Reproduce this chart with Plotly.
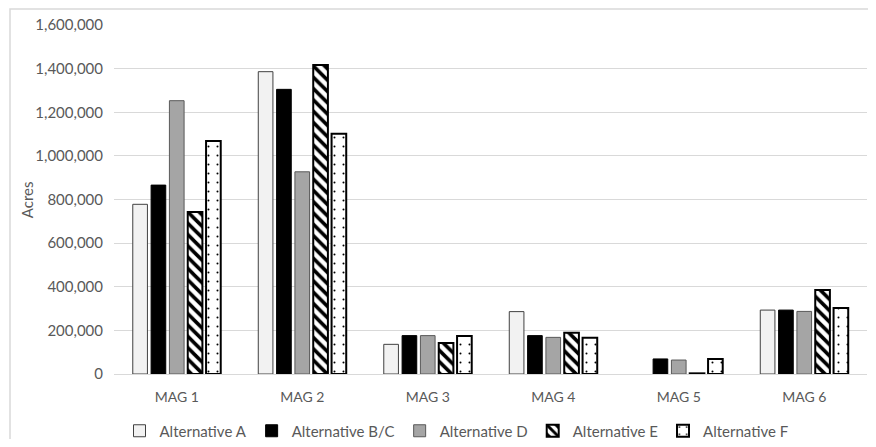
import plotly.graph_objects as go

categories = ["MAG 1", "MAG 2", "MAG 3", "MAG 4", "MAG 5", "MAG 6"]
alt_a = [778000, 1386000, 136000, 286000, None, 293000]
alt_bc = [866000, 1305000, 176000, 176000, 69000, 293000]
alt_d = [1253000, 927000, 176000, 168000, 64000, 287000]
alt_e = [743000, 1417000, 142000, 189000, 3000, 385000]
alt_f = [1068000, 1102000, 174000, 166000, 69000, 303000]
y_ticks = [0, 200000, 400000, 600000, 800000, 1000000, 1200000, 1400000, 1600000]

FONT = "Lato"
GRAY = "#595959"

# page has an 8px body margin; figure is sized/offset to compensate
W, H = 860, 431
L, R, T, B = 106, 1, 17, 65
PW, PH = W - L - R, H - T - B


def px(xf):
    return (xf - L) / PW


def py(yf):
    return (H - B - yf) / PH


fig = go.Figure()
fig.add_trace(go.Bar(name="Alternative A", x=categories, y=alt_a,
                     marker=dict(color="#f2f2f2", line=dict(color="#404040", width=1))))
fig.add_trace(go.Bar(name="Alternative B/C", x=categories, y=alt_bc,
                     marker=dict(color="#000000", line=dict(color="#000000", width=1))))
fig.add_trace(go.Bar(name="Alternative D", x=categories, y=alt_d,
                     marker=dict(color="#a5a5a5", line=dict(color="#595959", width=1))))
fig.add_trace(go.Bar(name="Alternative E", x=categories, y=alt_e,
                     marker=dict(color="#ffffff", line=dict(color="#000000", width=2),
                                 pattern=dict(shape="\\", fgcolor="#000000", bgcolor="#ffffff",
                                              size=8, solidity=0.45, fillmode="replace"))))
fig.add_trace(go.Bar(name="Alternative F", x=categories, y=alt_f,
                     marker=dict(color="#ffffff", line=dict(color="#000000", width=2),
                                 pattern=dict(shape=".", fgcolor="#000000", bgcolor="#ffffff",
                                              size=9, solidity=0.04, fillmode="replace"))))

fig.update_layout(
    width=W, height=H,
    margin=dict(l=L, r=R, t=T, b=B, autoexpand=False),
    paper_bgcolor="white", plot_bgcolor="white",
    barmode="group", bargap=0.27, bargroupgap=0.2,
    font=dict(family=FONT, size=15, color=GRAY),
    showlegend=True,
    legend=dict(orientation="h", x=px(448.5), xanchor="center",
                y=py(423), yanchor="middle",
                font=dict(family=FONT, size=15, color=GRAY), itemwidth=30,
                traceorder="normal"),
    yaxis=dict(range=[0, 1600000], tickvals=y_ticks, tickformat=",d",
               showgrid=True, gridcolor="#d9d9d9", gridwidth=1,
               zeroline=False, showline=False, ticks="", ticklabelstandoff=10,
               tickfont=dict(family=FONT, size=15, color=GRAY)),
    xaxis=dict(showline=True, linecolor="#d9d9d9", linewidth=1, ticks="",
               ticklabelstandoff=10,
               tickfont=dict(family=FONT, size=14, color=GRAY)),
    annotations=[dict(text="Acres", xref="paper", yref="paper", x=px(18.7), y=0.5,
                      xanchor="center", yanchor="middle", textangle=-90, showarrow=False,
                      font=dict(family=FONT, size=15, color=GRAY))],
    shapes=[dict(type="rect", xref="paper", yref="paper",
                 x0=px(2), x1=px(W + 20), y0=py(H + 20), y1=py(1),
                 line=dict(color="#d9d9d9", width=1.5), fillcolor="rgba(0,0,0,0)", layer="below")],
)

fig.write_html("out.html")
